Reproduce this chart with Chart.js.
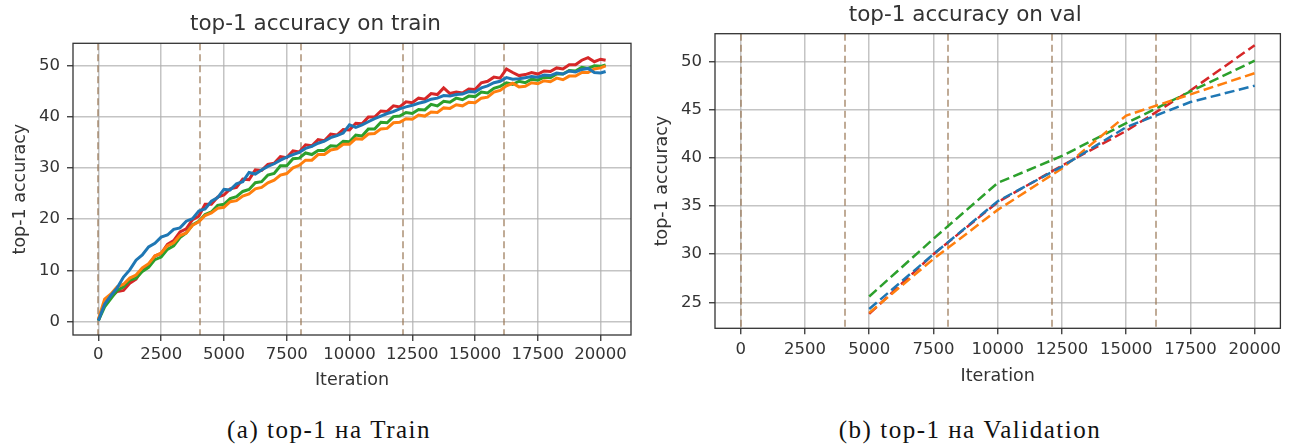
<!DOCTYPE html>
<html>
<head>
<meta charset="utf-8">
<script src="https://cdn.jsdelivr.net/npm/chart.js@4.4.1/dist/chart.umd.min.js"></script>
<style>
  html, body { margin: 0; padding: 0; background: #fff; }
  body { width: 1297px; height: 447px; position: relative; overflow: hidden; }
  .panel { position: absolute; top: 0; }
  .caption {
    position: absolute; top: 416px; line-height: 28px;
    font-family: "Liberation Serif", serif; font-size: 25px; letter-spacing: 1.5px;
    color: #111; transform: translateX(-50%); white-space: nowrap;
  }
</style>
</head>
<body>
<div class="panel" style="left:0px"><canvas id="train-chart" width="645" height="400"></canvas></div>
<div class="panel" style="left:650px"><canvas id="val-chart" width="647" height="400"></canvas></div>
<div class="caption" style="left:329px">(a) top-1 на Train</div>
<div class="caption" style="left:970px">(b) top-1 на Validation</div>
<script>
// train curves, one value every 250 iterations (last point at 20200)
const trainIters = [
    0, 250, 500, 750, 1000, 1250, 1500, 1750,
    2000, 2250, 2500, 2750, 3000, 3250, 3500, 3750,
    4000, 4250, 4500, 4750, 5000, 5250, 5500, 5750,
    6000, 6250, 6500, 6750, 7000, 7250, 7500, 7750,
    8000, 8250, 8500, 8750, 9000, 9250, 9500, 9750,
    10000, 10250, 10500, 10750, 11000, 11250, 11500, 11750,
    12000, 12250, 12500, 12750, 13000, 13250, 13500, 13750,
    14000, 14250, 14500, 14750, 15000, 15250, 15500, 15750,
    16000, 16250, 16500, 16750, 17000, 17250, 17500, 17750,
    18000, 18250, 18500, 18750, 19000, 19250, 19500, 19750,
    20000, 20200
]
const trainBlue = [
    0.2, 3.4, 5.1, 6.6, 8.7, 10.1, 12.0, 13.0,
    14.6, 15.3, 16.5, 16.9, 18.0, 18.3, 19.6, 20.1,
    21.6, 22.0, 23.5, 24.2, 25.8, 25.7, 26.9, 27.3,
    29.1, 28.8, 29.6, 30.3, 30.8, 31.5, 32.1, 32.6,
    33.0, 33.8, 34.2, 34.8, 35.2, 35.9, 36.3, 36.8,
    38.4, 37.9, 38.4, 39.0, 39.6, 40.1, 40.6, 41.0,
    41.5, 41.9, 42.2, 42.6, 42.9, 43.4, 43.6, 44.1,
    44.0, 44.3, 44.4, 44.9, 44.8, 45.6, 46.0, 46.6,
    46.9, 47.6, 47.3, 47.4, 47.6, 47.8, 47.7, 48.1,
    48.0, 48.5, 48.3, 48.9, 48.7, 49.2, 49.4, 48.6,
    48.5, 48.8
]
const trainOrange = [
    0.5, 4.4, 5.4, 6.8, 7.3, 8.5, 9.1, 10.5,
    11.3, 12.8, 13.4, 14.8, 15.4, 16.8, 17.3, 18.8,
    19.5, 20.7, 21.2, 22.1, 22.3, 23.4, 23.6, 24.5,
    24.9, 25.9, 26.2, 27.1, 27.6, 28.6, 28.9, 30.0,
    30.5, 31.5, 31.5, 32.6, 32.6, 33.5, 33.7, 34.6,
    34.6, 35.7, 35.6, 36.6, 36.7, 37.6, 37.7, 38.8,
    38.9, 39.6, 39.5, 40.3, 40.1, 40.9, 40.8, 41.7,
    41.6, 42.3, 42.1, 42.8, 42.7, 43.6, 43.8, 44.8,
    45.1, 46.0, 46.5, 45.8, 45.9, 46.6, 46.4, 47.0,
    46.8, 47.5, 47.2, 47.9, 47.9, 48.6, 48.6, 49.3,
    49.5, 49.9
]
const trainGreen = [
    0.2, 2.9, 4.5, 6.1, 6.8, 8.1, 8.5, 9.8,
    10.6, 12.1, 12.6, 14.1, 14.8, 16.4, 17.3, 18.9,
    19.6, 20.9, 21.4, 22.7, 22.9, 24.0, 24.4, 25.4,
    25.8, 27.1, 27.3, 28.6, 28.9, 30.4, 30.4, 31.8,
    31.9, 32.9, 32.6, 33.4, 33.4, 34.3, 34.2, 35.2,
    35.1, 36.4, 36.2, 37.6, 37.6, 38.9, 38.8, 40.0,
    40.1, 40.8, 40.6, 41.4, 41.3, 42.4, 42.1, 43.0,
    42.8, 43.6, 43.3, 44.0, 43.9, 44.8, 44.6, 45.5,
    45.9, 46.6, 46.3, 46.9, 46.6, 47.3, 47.1, 47.7,
    47.6, 48.3, 48.3, 49.0, 48.9, 49.6, 49.4, 49.9,
    49.8, 50.1
]
const trainRed = [
    0.3, 3.6, 4.8, 5.9, 6.1, 7.5, 8.3, 10.2,
    11.0, 12.8, 13.3, 15.1, 15.8, 17.5, 18.1, 19.9,
    20.6, 22.9, 22.9, 24.3, 24.7, 25.9, 26.2, 27.8,
    27.7, 29.6, 29.5, 30.7, 30.9, 32.2, 32.0, 33.3,
    33.1, 34.5, 34.3, 35.5, 35.3, 36.6, 36.4, 37.5,
    37.4, 38.7, 38.6, 39.9, 39.9, 41.1, 41.0, 42.1,
    41.9, 42.9, 42.7, 43.6, 43.4, 44.5, 44.3, 45.6,
    44.5, 44.8, 44.6, 45.4, 45.3, 46.6, 46.9, 47.7,
    47.5, 49.3, 48.6, 48.0, 48.2, 48.6, 48.3, 48.9,
    48.8, 49.5, 49.3, 50.1, 50.1, 51.0, 51.5, 50.7,
    51.2, 51.0
]

// validation curves
const valIters = [5000, 7500, 10000, 12500, 15000, 17500, 20000]
const valBlue = [24.3, 30.0, 35.5, 39.1, 43.2, 45.8, 47.5]
const valOrange = [23.9, 29.5, 34.6, 38.9, 44.4, 46.6, 48.8]
const valGreen = [25.6, 31.6, 37.4, 40.2, 43.6, 46.9, 50.1]
const valRed = [23.8, 30.0, 35.4, 39.2, 42.8, 47.0, 51.7]

// vertical dashed markers (epoch boundaries)
const epochIters = [0, 4040, 8080, 12120, 16160]

// tick labels
const xTicks = [0, 2500, 5000, 7500, 10000, 12500, 15000, 17500, 20000]
const trainYTicks = [0, 10, 20, 30, 40, 50]
const valYTicks = [25, 30, 35, 40, 45, 50]

const COLORS = { blue: '#1f77b4', orange: '#ff7f0e', green: '#2ca02c', red: '#d62728' }
const TEXT = '#333'

Chart.defaults.font.family = 'DejaVu Sans'
Chart.defaults.color = TEXT

function points(xs, ys) {
    return xs.map((x, i) => ({ x: x, y: ys[i] }))
}

var epochLines = {
    id: 'epochLines',
    beforeDatasetsDraw(chart) {
        const { ctx, chartArea, scales } = chart
        ctx.save()
        ctx.strokeStyle = 'rgba(150,115,80,0.6)'
        ctx.lineWidth = 2
        ctx.setLineDash([7, 4])
        epochIters.forEach(it => {
            const px = Math.round(scales.x.getPixelForValue(it))
            ctx.beginPath()
            ctx.moveTo(px, chartArea.top)
            ctx.lineTo(px, chartArea.bottom)
            ctx.stroke()
        })
        ctx.restore()
    }
}

var frame = {
    id: 'frame',
    afterDraw(chart) {
        const { ctx, chartArea: a } = chart
        ctx.save()
        ctx.strokeStyle = '#333'
        ctx.lineWidth = 1.3
        ctx.strokeRect(a.left, a.top, a.right - a.left, a.bottom - a.top)
        ctx.restore()
    }
}

function series(xs, ys, color, dashed) {
    return {
        data: points(xs, ys),
        borderColor: color,
        backgroundColor: color,
        borderWidth: dashed ? 2.5 : 3,
        borderDash: dashed ? [10, 4.5] : [],
        pointRadius: 0,
        tension: 0,
        fill: false
    }
}

function fixedTicks(values) {
    return scale => { scale.ticks = values.map(v => ({ value: v })) }
}

function makeChart(id, cfg) {
    var gridOpts = {
        color: 'rgba(176,176,176,0.75)',
        lineWidth: 1.5,
        tickColor: '#333',
        tickWidth: 1.3,
        tickLength: 6
    }
    return new Chart(document.getElementById(id).getContext('2d'), {
        type: 'line',
        data: { datasets: cfg.datasets },
        options: {
            responsive: false,
            animation: false,
            devicePixelRatio: 1,
            layout: { padding: { left: 0, top: 0, bottom: 0, right: cfg.padRight } },
            plugins: {
                legend: { display: false },
                tooltip: { enabled: false },
                title: {
                    display: true,
                    text: cfg.title,
                    color: TEXT,
                    font: { size: 21.5, weight: 'normal' },
                    padding: cfg.titlePad
                }
            },
            scales: {
                x: {
                    type: 'linear',
                    min: cfg.xMin,
                    max: cfg.xMax,
                    grid: gridOpts,
                    border: { display: false },
                    afterBuildTicks: fixedTicks(xTicks),
                    ticks: {
                        maxRotation: 0,
                        autoSkip: false,
                        padding: cfg.xTickPad,
                        font: { size: 16.5 },
                        callback: v => String(v)
                    },
                    title: {
                        display: true,
                        text: 'Iteration',
                        font: { size: 17.5 },
                        padding: { top: 0, bottom: cfg.xTitlePad }
                    },
                    afterFit: s => { s.height = cfg.xHeight }
                },
                y: {
                    min: cfg.yMin,
                    max: cfg.yMax,
                    grid: gridOpts,
                    border: { display: false },
                    afterBuildTicks: fixedTicks(cfg.yTicks),
                    ticks: {
                        padding: 7,
                        autoSkip: false,
                        font: { size: 16.5 },
                        callback: v => String(v)
                    },
                    title: {
                        display: true,
                        text: 'top-1 accuracy',
                        font: { size: 17.5 },
                        padding: { top: cfg.yTitlePad, bottom: 0 }
                    },
                    afterFit: s => { s.width = cfg.yWidth }
                }
            }
        },
        plugins: [epochLines, frame]
    })
}

makeChart('train-chart', {
    title: 'top-1 accuracy on train',
    datasets: [
        series(trainIters, trainBlue, COLORS.blue, false),
        series(trainIters, trainOrange, COLORS.orange, false),
        series(trainIters, trainGreen, COLORS.green, false),
        series(trainIters, trainRed, COLORS.red, false)
    ],
    xMin: -1010, xMax: 21210,
    yMin: -2.6, yMax: 54.3, yTicks: trainYTicks,
    padRight: 14,
    titlePad: { top: 12, bottom: 5.5 },
    xHeight: 65, xTickPad: 4, xTitlePad: 9.5,
    yWidth: 73, yTitlePad: 9.5
})

makeChart('val-chart', {
    title: 'top-1 accuracy on val',
    datasets: [
        series(valIters, valBlue, COLORS.blue, true),
        series(valIters, valOrange, COLORS.orange, true),
        series(valIters, valGreen, COLORS.green, true),
        series(valIters, valRed, COLORS.red, true)
    ],
    xMin: -1000, xMax: 21000,
    yMin: 22.3, yMax: 52.9, yTicks: valYTicks,
    padRight: 16.6,
    titlePad: { top: 2.4, bottom: 5.5 },
    xHeight: 71.7, xTickPad: 5.8, xTitlePad: 12.8,
    yWidth: 65, yTitlePad: 1.5
})
</script>
</body>
</html>
